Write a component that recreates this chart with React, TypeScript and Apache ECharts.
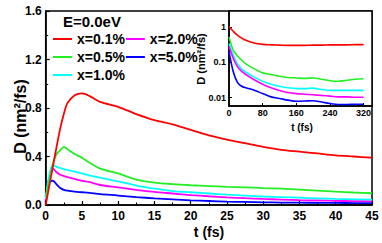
import React, { useEffect, useRef } from "react";
import * as echarts from "echarts";

// main panel: t (fs) vs D (nm^2/fs)
const mainT = [0, 0.5, 1, 1.5, 2, 2.5, 3, 4, 5, 6, 7.5, 10, 12.5, 15, 17.5, 20, 22.5, 25, 27.5, 30, 32.5, 35, 37.5, 40, 42.5, 45];
const mainX01 = [0, 0.16, 0.32, 0.48, 0.63, 0.75, 0.84, 0.905, 0.92, 0.9, 0.85, 0.81, 0.75, 0.7, 0.665, 0.62, 0.575, 0.54, 0.51, 0.48, 0.455, 0.44, 0.425, 0.41, 0.4, 0.39];
const mainX05 = [0.07, 0.2, 0.34, 0.42, 0.45, 0.48, 0.46, 0.42, 0.39, 0.35, 0.3, 0.26, 0.21, 0.185, 0.172, 0.163, 0.156, 0.15, 0.145, 0.14, 0.135, 0.127, 0.118, 0.11, 0.103, 0.097];
const mainX10 = [0.05, 0.25, 0.33, 0.315, 0.305, 0.295, 0.29, 0.275, 0.26, 0.245, 0.225, 0.195, 0.16, 0.135, 0.115, 0.105, 0.095, 0.085, 0.078, 0.07, 0.065, 0.06, 0.055, 0.05, 0.047, 0.044];
const mainX20 = [0.04, 0.22, 0.3, 0.27, 0.25, 0.24, 0.23, 0.215, 0.2, 0.19, 0.165, 0.145, 0.125, 0.108, 0.095, 0.082, 0.072, 0.063, 0.056, 0.05, 0.045, 0.04, 0.037, 0.034, 0.032, 0.03];
const mainX50 = [0.03, 0.19, 0.2, 0.17, 0.14, 0.125, 0.118, 0.11, 0.105, 0.1, 0.09, 0.078, 0.065, 0.055, 0.046, 0.038, 0.033, 0.028, 0.025, 0.022, 0.02, 0.019, 0.018, 0.017, 0.016, 0.015];

// inset: long times, log scale
const insetT = [0, 10, 20, 30, 40, 60, 80, 100, 120, 140, 160, 180, 200, 220, 240, 260, 280, 300, 320];
const insetX01 = [1.0, 0.75, 0.58, 0.48, 0.42, 0.35, 0.32, 0.31, 0.305, 0.3, 0.3, 0.3, 0.305, 0.305, 0.31, 0.31, 0.31, 0.315, 0.315];
const insetX05 = [0.52, 0.22, 0.15, 0.115, 0.09, 0.065, 0.05, 0.045, 0.04, 0.037, 0.036, 0.035, 0.036, 0.033, 0.03, 0.029, 0.031, 0.033, 0.034];
const insetX10 = [0.34, 0.16, 0.09, 0.065, 0.052, 0.038, 0.029, 0.024, 0.021, 0.019, 0.018, 0.018, 0.0185, 0.017, 0.016, 0.016, 0.016, 0.016, 0.016];
const insetX20 = [0.28, 0.13, 0.075, 0.055, 0.045, 0.032, 0.024, 0.019, 0.016, 0.014, 0.013, 0.0125, 0.012, 0.0115, 0.011, 0.0105, 0.0105, 0.0102, 0.0102];
const insetX50 = [0.2, 0.055, 0.027, 0.021, 0.019, 0.0162, 0.013, 0.0105, 0.0095, 0.0085, 0.0079, 0.008, 0.0082, 0.0075, 0.0068, 0.0064, 0.0064, 0.0065, 0.0065];

const names = ["x=0.1%", "x=0.5%", "x=1.0%", "x=2.0%", "x=5.0%"];
const colors = ["#ff0000", "#22ee22", "#00ffff", "#ff00ff", "#0000ff"];
const legendOrder = ["x=0.1%", "x=2.0%", "x=0.5%", "x=5.0%", "x=1.0%"];
const mainYTicks = ["0.0", "0.4", "0.8", "1.2", "1.6"];

const FONT = "Liberation Sans, Arial, sans-serif";

export default function App() {
  const ref = useRef<HTMLDivElement>(null);
  useEffect(() => {
    if (!ref.current) return;
    const chart = echarts.init(ref.current, undefined, { renderer: "svg" });
    const mainSets = [mainX01, mainX05, mainX10, mainX20, mainX50];
    const insetSets = [insetX01, insetX05, insetX10, insetX20, insetX50];
    const series: any[] = [];
    mainSets.forEach((vals, i) => {
      series.push({
        type: "line",
        name: names[i],
        xAxisIndex: 0,
        yAxisIndex: 0,
        symbol: "none",
        smooth: 0.3,
        data: mainT.map((t, j) => [t, vals[j]]),
        lineStyle: { color: colors[i], width: 1.8 },
        itemStyle: { color: colors[i] },
        z: 5 - i,
      });
    });
    insetSets.forEach((vals, i) => {
      series.push({
        type: "line",
        name: names[i],
        xAxisIndex: 1,
        yAxisIndex: 1,
        symbol: "none",
        smooth: 0.3,
        data: insetT.map((t, j) => [t, vals[j]]),
        lineStyle: { color: colors[i], width: 1.6 },
        itemStyle: { color: colors[i] },
        z: 5,
      });
    });
    const tickLabel = (size: number) => ({
      color: "#000",
      fontFamily: FONT,
      fontWeight: "bold",
      fontSize: size,
    });
    chart.setOption({
      animation: false,
      grid: [
        { left: 45.7, top: 11, width: 326.3, height: 194, show: true, borderColor: "#000", borderWidth: 1.5 },
        { left: 229, top: 11, width: 143, height: 95, show: true, borderColor: "#000", borderWidth: 1.5, backgroundColor: "#fff" },
      ],
      legend: {
        left: 53,
        top: 30.5,
        width: 150,
        orient: "horizontal",
        padding: 0,
        itemGap: 1,
        itemWidth: 19,
        itemHeight: 2,
        icon: "rect",
        selectedMode: false,
        data: legendOrder,
        textStyle: { color: "#000", fontFamily: FONT, fontWeight: "bold", fontSize: 14, lineHeight: 17 },
      },
      xAxis: [
        {
          type: "value",
          gridIndex: 0,
          min: 0,
          max: 45,
          interval: 5,
          axisLine: { show: true, onZero: false, lineStyle: { color: "#000", width: 1.5 } },
          axisTick: { show: true, inside: true, length: 4, lineStyle: { color: "#000", width: 1.2 } },
          minorTick: { show: true, splitNumber: 2, length: 2.5, lineStyle: { color: "#000", width: 1 } },
          axisLabel: { ...tickLabel(12), margin: 5 },
          splitLine: { show: false },
        },
        {
          type: "value",
          gridIndex: 1,
          min: 0,
          max: 340,
          interval: 80,
          axisLine: { show: true, onZero: false, lineStyle: { color: "#000", width: 1.5 } },
          axisTick: { show: true, inside: true, length: 3, lineStyle: { color: "#000", width: 1 } },
          axisLabel: { ...tickLabel(9), margin: 2, showMaxLabel: false },
          splitLine: { show: false },
        },
      ],
      yAxis: [
        {
          type: "value",
          gridIndex: 0,
          min: 0,
          max: 1.6,
          interval: 0.4,
          axisLine: { show: true, onZero: false, lineStyle: { color: "#000", width: 1.5 } },
          axisTick: { show: true, inside: true, length: 4, lineStyle: { color: "#000", width: 1.2 } },
          minorTick: { show: true, splitNumber: 2, length: 2.5, lineStyle: { color: "#000", width: 1 } },
          axisLabel: {
            ...tickLabel(12),
            margin: 4,
            formatter: (v: number) => mainYTicks[Math.round(v / 0.4)] ?? "",
          },
          splitLine: { show: false },
        },
        {
          type: "log",
          gridIndex: 1,
          logBase: 10,
          min: 0.0058,
          max: 2.8,
          axisLine: { show: true, onZero: false, lineStyle: { color: "#000", width: 1.5 } },
          axisTick: { show: true, inside: true, length: 3, lineStyle: { color: "#000", width: 1 } },
          axisLabel: {
            ...tickLabel(9),
            margin: 3,
            showMinLabel: false,
            showMaxLabel: false,
            formatter: (v: number) => String(Number(v.toPrecision(1))),
          },
          splitLine: { show: false },
        },
      ],
      graphic: [
        {
          type: "text",
          left: 63,
          top: 14,
          style: { text: "E=0.0eV", fill: "#000", font: `bold 15px ${FONT}` },
        },
        {
          type: "text",
          x: 209,
          y: 232,
          style: { text: "t (fs)", fill: "#000", font: `bold 14px ${FONT}`, align: "center", verticalAlign: "middle" },
        },
        {
          type: "text",
          x: 20,
          y: 116.5,
          rotation: Math.PI / 2,
          style: { text: "D (nm²/fs)", fill: "#000", font: `bold 16px ${FONT}`, align: "center", verticalAlign: "middle" },
        },
        {
          type: "text",
          x: 302,
          y: 127,
          style: { text: "t (fs)", fill: "#000", font: `bold 10px ${FONT}`, align: "center", verticalAlign: "middle" },
        },
        {
          type: "text",
          x: 201,
          y: 59,
          rotation: Math.PI / 2,
          style: { text: "D (nm²/fs)", fill: "#000", font: `bold 11px ${FONT}`, align: "center", verticalAlign: "middle" },
        },
      ],
      series,
    });
    return () => chart.dispose();
  }, []);
  return <div ref={ref} style={{ width: 382, height: 243, position: "absolute", left: 0, top: 0 }} />;
}
